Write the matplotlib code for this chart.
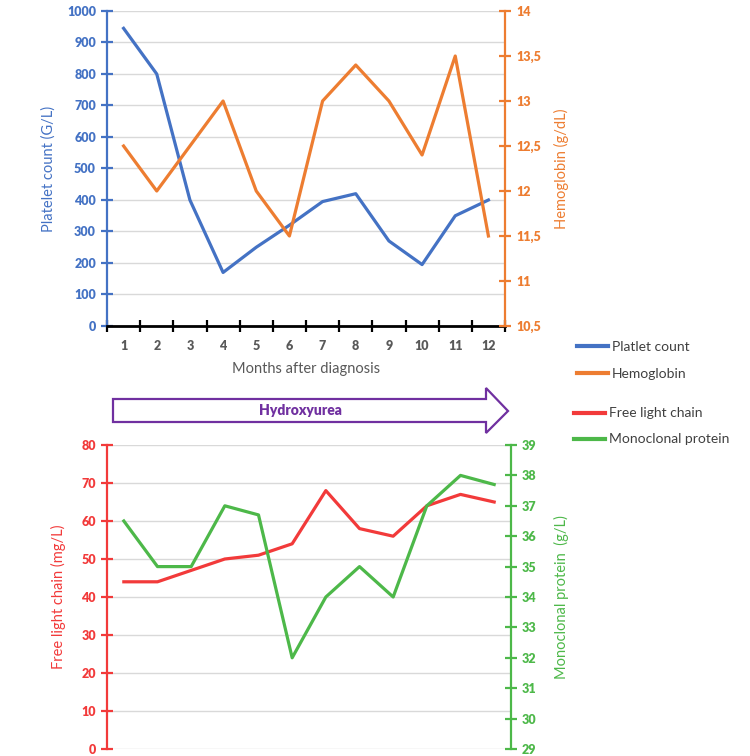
import matplotlib.pyplot as plt
from matplotlib.patches import Polygon
from matplotlib.lines import Line2D
from matplotlib.ticker import FixedLocator, FuncFormatter

plt.rcParams['font.family'] = ['Lato', 'DejaVu Sans']

months = list(range(1, 13))
platelets = [945, 800, 400, 170, 250, 320, 395, 420, 270, 195, 350, 400]
hemoglobin = [12.5, 12.0, 12.5, 13.0, 12.0, 11.5, 13.0, 13.4, 13.0, 12.4, 13.5, 11.5]
free_light_chain = [44, 44, 47, 50, 51, 54, 68, 58, 56, 64, 67, 65]
monoclonal = [36.5, 35.0, 35.0, 37.0, 36.7, 32.0, 34.0, 35.0, 34.0, 37.0, 38.0, 37.7]

BLUE = '#4472C4'
ORANGE = '#ED7D31'
RED = '#F23A3A'
GREEN = '#4DB849'
PURPLE = '#7030A0'
GRID = '#D9D9D9'
W, H = 750, 756


def comma(v, pos):
    s = ('%g' % v)
    return s.replace('.', ',')


def style_y(ax, color, side):
    ax.spines[side].set_color(color)
    ax.spines[side].set_linewidth(1.6)
    ax.tick_params(axis='y', colors=color, direction='inout', length=8, width=1.6,
                   labelsize=9, pad=4)
    for lab in ax.get_yticklabels():
        lab.set_fontweight('heavy')


fig = plt.figure(figsize=(7.5, 7.56), dpi=100)

# ---- top chart
ax1 = fig.add_axes([107 / W, 1 - 326 / H, (505 - 107) / W, (326 - 11) / H])
ax1.plot(months, platelets, color=BLUE, lw=2.3)
ax1.set_xlim(0.5, 12.5)
ax1.set_ylim(0, 1000)
ax1.set_yticks(range(0, 1001, 100))
ax1.grid(axis='y', color=GRID, lw=1)
ax1.set_axisbelow(True)
for s in ['top', 'right']:
    ax1.spines[s].set_visible(False)
ax1.spines['bottom'].set_linewidth(2)
ax1.spines['bottom'].set_color('black')
ax1.set_xticks(months)
ax1.set_xticklabels([str(m) for m in months], fontweight='heavy', color='#595959', fontsize=9)
ax1.xaxis.set_minor_locator(FixedLocator([m - 0.5 for m in months] + [12.5]))
ax1.tick_params(axis='x', which='major', length=0, pad=10)
ax1.tick_params(axis='x', which='minor', length=8, width=1.6, direction='inout', color='black')
ax1.set_xlabel('Months after diagnosis', color='#595959', fontsize=10.5, labelpad=7)
ax1.set_ylabel('Platelet count (G/L)', color=BLUE, fontsize=10.5, labelpad=8)
style_y(ax1, BLUE, 'left')

ax2 = ax1.twinx()
ax2.plot(months, hemoglobin, color=ORANGE, lw=2.3)
ax2.set_ylim(10.5, 14)
ax2.set_yticks([10.5 + 0.5 * i for i in range(8)])
ax2.yaxis.set_major_formatter(FuncFormatter(comma))
for s in ['top', 'left', 'bottom']:
    ax2.spines[s].set_visible(False)
ax2.set_ylabel('Hemoglobin (g/dL)', color=ORANGE, fontsize=10.5, labelpad=9)
style_y(ax2, ORANGE, 'right')

# ---- bottom chart
ax3 = fig.add_axes([107 / W, 1 - 749 / H, (511 - 107) / W, (749 - 445) / H])
ax3.plot(months, free_light_chain, color=RED, lw=2.3)
ax3.set_xlim(0.5, 12.5)
ax3.set_ylim(0, 80)
ax3.set_yticks(range(0, 81, 10))
ax3.grid(axis='y', color=GRID, lw=1)
ax3.set_axisbelow(True)
for s in ['top', 'right', 'bottom']:
    ax3.spines[s].set_visible(False)
ax3.set_xticks([])
ax3.set_ylabel('Free light chain (mg/L)', color=RED, fontsize=10.5, labelpad=11)
style_y(ax3, RED, 'left')

ax4 = ax3.twinx()
ax4.plot(months, monoclonal, color=GREEN, lw=2.3)
ax4.set_ylim(29, 39)
ax4.set_yticks(range(29, 40))
for s in ['top', 'left', 'bottom']:
    ax4.spines[s].set_visible(False)
ax4.set_ylabel('Monoclonal protein  (g/L)', color=GREEN, fontsize=10.5, labelpad=12)
style_y(ax4, GREEN, 'right')

# ---- Hydroxyurea arrow
arrow_px = [(113, 399), (486, 399), (486, 388), (508, 411), (486, 433), (486, 422), (113, 422)]
arrow = Polygon([(x / W, 1 - y / H) for x, y in arrow_px], closed=True,
                transform=fig.transFigure, facecolor='white', edgecolor=PURPLE, lw=1.6)
fig.add_artist(arrow)
fig.text(300 / W, 1 - 411 / H, 'Hydroxyurea', color=PURPLE, fontweight='heavy',
         fontsize=10, ha='center', va='center')

# ---- legends
h_top = [Line2D([], [], color=BLUE, lw=3), Line2D([], [], color=ORANGE, lw=3)]
fig.legend(h_top, ['Platlet count', 'Hemoglobin'], loc='upper left',
           bbox_to_anchor=(564 / W, 1 - 328 / H), frameon=False, fontsize=10,
           handlelength=2.3, handletextpad=0.25, labelspacing=1.1, labelcolor='#404040')
h_bot = [Line2D([], [], color=RED, lw=3), Line2D([], [], color=GREEN, lw=3)]
fig.legend(h_bot, ['Free light chain', 'Monoclonal protein'], loc='upper left',
           bbox_to_anchor=(561 / W, 1 - 395 / H), frameon=False, fontsize=10,
           handlelength=2.3, handletextpad=0.25, labelspacing=1.0, labelcolor='#404040')

fig.savefig('out.png', dpi=100)
